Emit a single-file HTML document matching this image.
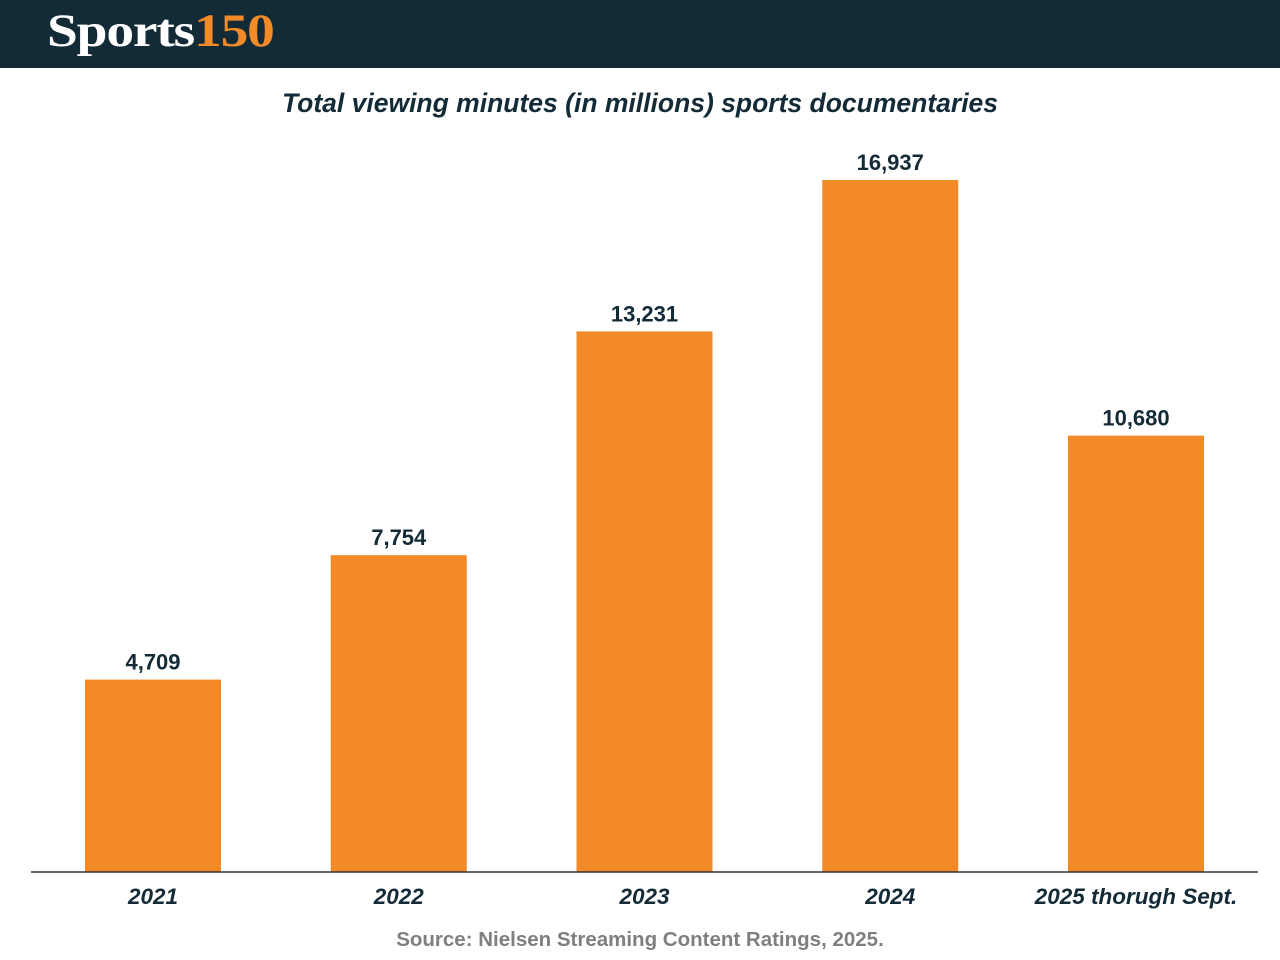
<!DOCTYPE html>
<html><head><meta charset="utf-8"><style>
body{margin:0;width:1280px;height:960px;background:#fff;overflow:hidden;font-family:"Liberation Sans",sans-serif}
#hdr{position:absolute;left:0;top:0;width:1280px;height:68px;background:#132a37}
#logo{position:absolute;left:47px;top:4px;font-family:"Liberation Serif",serif;font-weight:bold;font-size:47px;color:#fff;letter-spacing:-1px;transform:scaleX(1.18);transform-origin:0 0;white-space:nowrap}
#logo span{color:#f28a28}
</style></head><body>
<div id="hdr"><div id="logo">Sports<span>150</span></div></div>
<svg id="chart" width="1280" height="892" style="position:absolute;left:0;top:68px"></svg>
<script>
const categories=["2021","2022","2023","2024","2025 thorugh Sept."];
const values=[4709,7754,13231,16937,10680];
const valueLabels=["4,709","7,754","13,231","16,937","10,680"];
const svg=document.getElementById('chart');
const NS='http://www.w3.org/2000/svg';
const base=872-68, scale=692/16937;
const y=v=>base-v*scale;
const xc=i=>153+i*245.75;
function mk(t,a){const e=document.createElementNS(NS,t);for(const k in a)e.setAttribute(k,a[k]);svg.appendChild(e);return e;}
let t=mk('text',{x:640,y:44,'text-anchor':'middle','font-size':26.5,'font-weight':'bold','font-style':'italic',fill:'#132a37'});
t.textContent='Total viewing minutes (in millions) sports documentaries';


categories.forEach((c,i)=>{
 const r=mk('rect',{x:xc(i)-68,y:y(values[i]),width:136,height:values[i]*scale,fill:'#f28a28'});
 
 
 const l=mk('text',{x:xc(i),y:y(values[i])-10,'text-anchor':'middle','font-size':22,'font-weight':'bold',fill:'#132a37'});
 l.textContent=valueLabels[i];
 
 
 const a=mk('text',{x:xc(i),y:base+32,'text-anchor':'middle','font-size':22.5,'font-weight':'bold','font-style':'italic',fill:'#132a37'});
 a.textContent=c;
 
 
});
const ax=mk('line',{x1:31,x2:1258,y1:base,y2:base,stroke:'#333','stroke-width':1.5});


const s=mk('text',{x:640,y:878,'text-anchor':'middle','font-size':20.5,'font-weight':'bold',fill:'#7f7f7f'});
s.textContent='Source: Nielsen Streaming Content Ratings, 2025.';


</script>
</body></html>
